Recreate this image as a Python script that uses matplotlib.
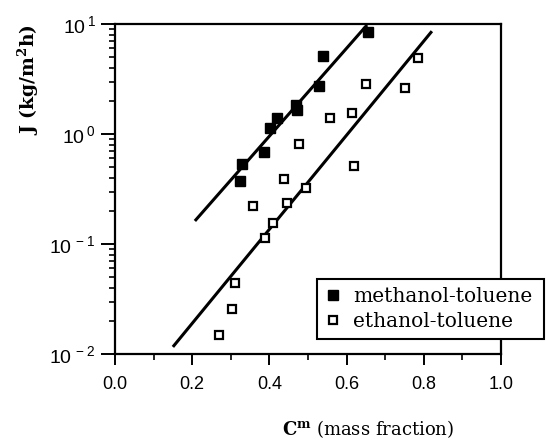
import numpy as np
import matplotlib
matplotlib.use('Agg')
from matplotlib import pyplot as plt
from matplotlib.ticker import FixedLocator, FuncFormatter, MultipleLocator

plt.rcParams['font.family'] = ['Liberation Sans', 'DejaVu Sans']
plt.rcParams['mathtext.fontset'] = 'custom'
plt.rcParams['mathtext.rm'] = 'Liberation Sans'
plt.rcParams['mathtext.bf'] = 'DejaVu Serif:bold'
plt.rcParams['axes.unicode_minus'] = False

# 甲醇-甲苯 通量数据
meoh_c = [0.324, 0.329, 0.386, 0.402, 0.420, 0.468, 0.471, 0.528, 0.539, 0.655]
meoh_j = [0.374, 0.533, 0.686, 1.13, 1.40, 1.85, 1.65, 2.73, 5.12, 8.46]

# 乙醇-甲苯 通量数据
etoh_c = [0.269, 0.303, 0.311, 0.358, 0.389, 0.409, 0.438, 0.446, 0.477,
          0.495, 0.557, 0.614, 0.619, 0.650, 0.751, 0.785]
etoh_j = [0.0149, 0.0257, 0.044, 0.22, 0.113, 0.155, 0.39, 0.236, 0.81,
          0.32, 1.40, 1.55, 0.51, 2.85, 2.62, 4.91]

# 两条拟合直线的端点
meoh_fit_c = [0.207, 0.653]
meoh_fit_j = [0.162, 9.8]
etoh_fit_c = [0.150, 0.821]
etoh_fit_j = [0.0116, 8.6]

x_ticks = [0.0, 0.2, 0.4, 0.6, 0.8, 1.0]
y_exps = [-2, -1, 0, 1]

fig = plt.figure(figsize=(5.47, 4.42), dpi=100)
ax = fig.add_axes([0.2102, 0.1991, 0.7057, 0.7466])

ax.plot(meoh_fit_c, meoh_fit_j, color='black', lw=2.2, solid_capstyle='butt')
ax.plot(etoh_fit_c, etoh_fit_j, color='black', lw=2.2, solid_capstyle='butt')
h1, = ax.plot(meoh_c, meoh_j, 's', color='black', ms=6.5, ls='none',
              label='methanol-toluene')
h2, = ax.plot(etoh_c, etoh_j, 's', mfc='white', mec='black', mew=1.6, ms=6,
              ls='none', label='ethanol-toluene')

ax.set_yscale('log')
ax.set_xlim(0.0, 1.0)
ax.set_ylim(1e-2, 1e1)

ax.xaxis.set_major_locator(FixedLocator(x_ticks))
ax.xaxis.set_minor_locator(MultipleLocator(0.1))
ax.xaxis.set_major_formatter(FuncFormatter(lambda v, p: '%.1f' % v))
ax.yaxis.set_major_locator(FixedLocator([10.0 ** e for e in y_exps]))
ax.yaxis.set_major_formatter(FuncFormatter(
    lambda v, p: r'$\mathregular{10^{\,%d}}$' % int(round(np.log10(v)))))

ax.tick_params(which='major', direction='out', length=8, width=1.4,
               labelsize=13, top=False, right=False, pad=8)
ax.tick_params(which='minor', direction='out', length=4, width=1.2,
               top=False, right=False)
ax.tick_params(axis='y', which='major', length=10, pad=4, labelsize=14)
for s in ax.spines.values():
    s.set_linewidth(1.6)

fig.text(0.051, 0.82, r'J (kg/m$^{\mathbf{2}}$h)', family='DejaVu Serif',
         weight='bold', fontsize=13.5, rotation=90, ha='center', va='center')
fig.text(0.673, 0.03, r'$\mathbf{C^{m}}$ (mass fraction)', family='DejaVu Serif',
         fontsize=13, ha='center', va='center')

leg = fig.legend(handles=[h1, h2], loc='upper left',
                 bbox_to_anchor=(0.5795, 0.3688, 0.415, 0.0), mode='expand',
                 prop={'family': 'DejaVu Serif', 'size': 14.5},
                 frameon=True, fancybox=False, framealpha=1, edgecolor='black',
                 handlelength=0.8, handletextpad=0.6, borderpad=0.4,
                 labelspacing=0.3, borderaxespad=0)
leg.get_frame().set_linewidth(1.5)

fig.savefig('out.png', dpi=100)
